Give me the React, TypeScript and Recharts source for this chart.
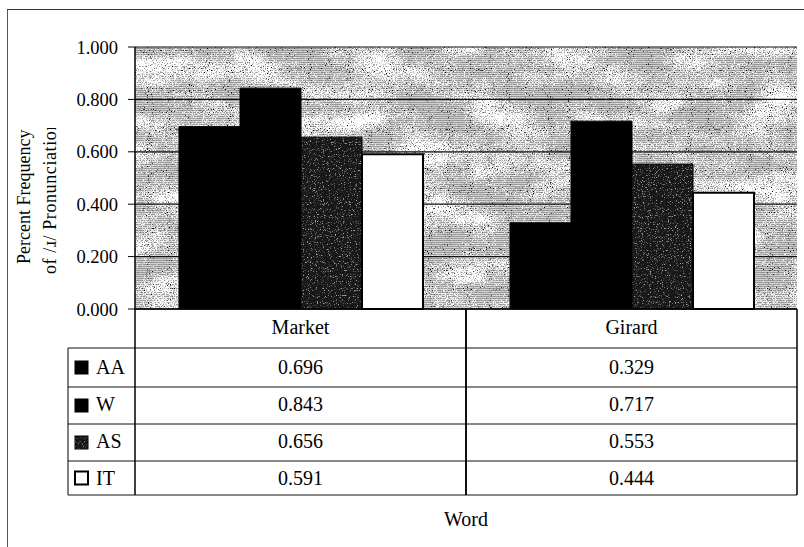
import React from 'react';
import { BarChart, Bar, XAxis, YAxis, CartesianGrid } from 'recharts';

const words = ['Market', 'Girard'];
const seriesNames = ['AA', 'W', 'AS', 'IT'];
const aaValues = [0.696, 0.329];
const wValues = [0.843, 0.717];
const asValues = [0.656, 0.553];
const itValues = [0.591, 0.444];
const yTicks = [0, 0.2, 0.4, 0.6, 0.8, 1.0];
const yLabelLines = ['Percent Frequency', 'of /\u0279/ Pronunciation'];
const xLabel = 'Word';

const valuesBySeries: Record<string, number[]> = { AA: aaValues, W: wValues, AS: asValues, IT: itValues };
const data = words.map((word, i) => ({ word, AA: aaValues[i], W: wValues[i], AS: asValues[i], IT: itValues[i] }));

const FONT = 'Liberation Serif, Times New Roman, serif';
const seriesStyle: Record<string, { fill: string; stroke: string; sw: number }> = {
  AA: { fill: '#000', stroke: '#000', sw: 1 },
  W: { fill: '#000', stroke: '#000', sw: 1 },
  AS: { fill: 'url(#asPat)', stroke: '#000', sw: 1 },
  IT: { fill: '#fff', stroke: '#000', sw: 2 },
};

const PLOT_BOTTOM = 309;
const HALF = 165.5;
const ROW_LINES = [348, 387, 424, 461, 495];
const ROW_BASE = [374, 411, 448, 485];
const HEAD_BASE = 334;
const LEG_LEFT = 68;
const AXIS_X = 135;
const TABLE_FS = 20;

function TableTick(props: any) {
  const { x, payload } = props;
  const wi = words.indexOf(payload.value);
  const left = x - HALF;
  const right = x + HALF;
  return (
    <g>
      <text x={x} y={HEAD_BASE} textAnchor="middle" style={{ fontFamily: FONT }} fontSize={TABLE_FS} fill="#000">{payload.value}</text>
      {ROW_LINES.map((y) => (
        <line key={'h' + y} x1={left} x2={right} y1={y} y2={y} stroke="#111" strokeWidth={1} />
      ))}
      <line x1={left} x2={left} y1={PLOT_BOTTOM} y2={ROW_LINES[ROW_LINES.length - 1]} stroke="#000" strokeWidth={1.5} />
      <line x1={right} x2={right} y1={PLOT_BOTTOM} y2={ROW_LINES[ROW_LINES.length - 1]} stroke="#000" strokeWidth={1.5} />
      {seriesNames.map((s, r) => (
        <text key={s} x={x} y={ROW_BASE[r]} textAnchor="middle" style={{ fontFamily: FONT }} fontSize={TABLE_FS} fill="#000">
          {valuesBySeries[s][wi].toFixed(3)}
        </text>
      ))}
      {wi === 0 && (
        <g>
          {ROW_LINES.map((y) => (
            <line key={'l' + y} x1={LEG_LEFT} x2={AXIS_X} y1={y} y2={y} stroke="#111" strokeWidth={1} />
          ))}
          <line x1={LEG_LEFT} x2={LEG_LEFT} y1={ROW_LINES[0]} y2={ROW_LINES[ROW_LINES.length - 1]} stroke="#000" strokeWidth={1} />
          {seriesNames.map((s, r) => {
            const cy = (ROW_LINES[r] + ROW_LINES[r + 1]) / 2;
            const st = seriesStyle[s];
            return (
              <g key={'k' + s}>
                <rect x={75} y={cy - 6.5} width={13} height={13} fill={st.fill} stroke="#000" strokeWidth={st.sw} />
                <text x={96} y={ROW_BASE[r]} style={{ fontFamily: FONT }} fontSize={TABLE_FS} fill="#000">{s}</text>
              </g>
            );
          })}
        </g>
      )}
    </g>
  );
}

function YLabel() {
  return (
    <g>
      <text x={30} y={264} transform="rotate(-90, 30, 264)" style={{ fontFamily: FONT }} fontSize={18} fill="#000">{yLabelLines[0]}</text>
      <g clipPath="url(#ylabClip)">
        <text x={56} y={274} transform="rotate(-90, 56, 274)" style={{ fontFamily: FONT }} fontSize={18} letterSpacing={0.6} fill="#000">{yLabelLines[1]}</text>
      </g>
    </g>
  );
}

const opaque = '1 0 0 0 0  1 0 0 0 0  1 0 0 0 0  0 0 0 0 1';

export default function App() {
  return (
    <div style={{ position: 'absolute', left: 0, top: 0, width: 804, height: 547, background: '#fff' }}>
      <div style={{ position: 'absolute', left: 7, top: 9, width: 797, height: 538, borderTop: '1px solid #333', borderLeft: '1px solid #555' }} />
      <div style={{ position: 'absolute', left: 0, top: 0 }}>
        <BarChart width={804} height={547} data={data} margin={{ top: 47, right: 7, left: 0, bottom: 0 }} barCategoryGap={44} barGap={0}>
          <defs>
            <pattern id="stripes" width="4" height="2" patternUnits="userSpaceOnUse">
              <rect x="0" y="0" width="4" height="1" fill="#999999" />
              <rect x="0" y="1" width="4" height="1" fill="#d0d0d0" />
            </pattern>
            <filter id="whiteGrain" x="0" y="0" width="100%" height="100%" filterUnits="objectBoundingBox" colorInterpolationFilters="sRGB">
              <feTurbulence type="fractalNoise" baseFrequency="0.015 0.035" numOctaves="3" seed="5" result="lo" />
              <feColorMatrix in="lo" type="matrix" values={opaque} result="loO" />
              <feTurbulence type="fractalNoise" baseFrequency="0.9" numOctaves="1" seed="9" result="hi" />
              <feColorMatrix in="hi" type="matrix" values={opaque} result="hiO" />
              <feComposite in="loO" in2="hiO" operator="arithmetic" k1="0" k2="1.0" k3="1.4" k4="-0.7" result="sum" />
              <feColorMatrix in="sum" type="matrix" values="0 0 0 0 1  0 0 0 0 1  0 0 0 0 1  6 0 0 0 -3.1" />
            </filter>
            <filter id="speck" x="0" y="0" width="100%" height="100%" filterUnits="objectBoundingBox" colorInterpolationFilters="sRGB">
              <feTurbulence type="fractalNoise" baseFrequency="0.95" numOctaves="1" seed="3" result="t" />
              <feColorMatrix in="t" type="matrix" values="0 0 0 0 0  0 0 0 0 0  0 0 0 0 0  9 0 0 0 -5.9" />
            </filter>
            <pattern id="bgTex" x="0" y="0" width="804" height="547" patternUnits="userSpaceOnUse">
              <rect x="0" y="0" width="804" height="547" fill="#b4b4b4" />
              <rect x="0" y="0" width="804" height="547" fill="url(#stripes)" />
              <rect x="0" y="0" width="804" height="547" fill="#fff" filter="url(#whiteGrain)" />
              <rect x="0" y="0" width="804" height="547" fill="#000" filter="url(#speck)" />
            </pattern>
            <filter id="asNoise" x="0" y="0" width="100%" height="100%" filterUnits="objectBoundingBox" colorInterpolationFilters="sRGB">
              <feTurbulence type="fractalNoise" baseFrequency="0.85" numOctaves="2" seed="11" result="t" />
              <feColorMatrix in="t" type="matrix" values="0 0 0 0 0.65  0 0 0 0 0.65  0 0 0 0 0.65  5 0 0 0 -2.9" />
            </filter>
            <pattern id="asPat" x="0" y="0" width="200" height="300" patternUnits="userSpaceOnUse">
              <rect x="0" y="0" width="200" height="300" fill="#181818" />
              <rect x="0" y="0" width="200" height="300" fill="#fff" filter="url(#asNoise)" />
            </pattern>
            <clipPath id="ylabClip">
              <rect x="0" y="128" width="135" height="400" />
            </clipPath>
          </defs>
          <CartesianGrid vertical={false} horizontal={true} stroke="#111" strokeWidth={1.2} fill="url(#bgTex)" fillOpacity={1} />
          <XAxis
            dataKey="word"
            height={238}
            axisLine={{ stroke: '#000', strokeWidth: 1.5 }}
            tickLine={false}
            tick={<TableTick />}
            interval={0}
            label={{ value: xLabel, position: 'insideBottom', offset: 21, style: { fontFamily: FONT }, fontSize: 20, fill: '#000' }}
          />
          <YAxis
            width={135}
            domain={[0, 1]}
            ticks={yTicks}
            tickFormatter={(v: number) => v.toFixed(3)}
            tickSize={7}
            tickMargin={10}
            axisLine={{ stroke: '#000', strokeWidth: 1.5 }}
            tickLine={{ stroke: '#000' }}
            tick={{ style: { fontFamily: FONT }, fontSize: 18.5, fill: '#000' }}
            label={{ content: () => <YLabel /> }}
          />
          {seriesNames.map((s) => (
            <Bar key={s} dataKey={s} fill={seriesStyle[s].fill} stroke={seriesStyle[s].stroke} strokeWidth={seriesStyle[s].sw} isAnimationActive={false} />
          ))}
        </BarChart>
      </div>
    </div>
  );
}
